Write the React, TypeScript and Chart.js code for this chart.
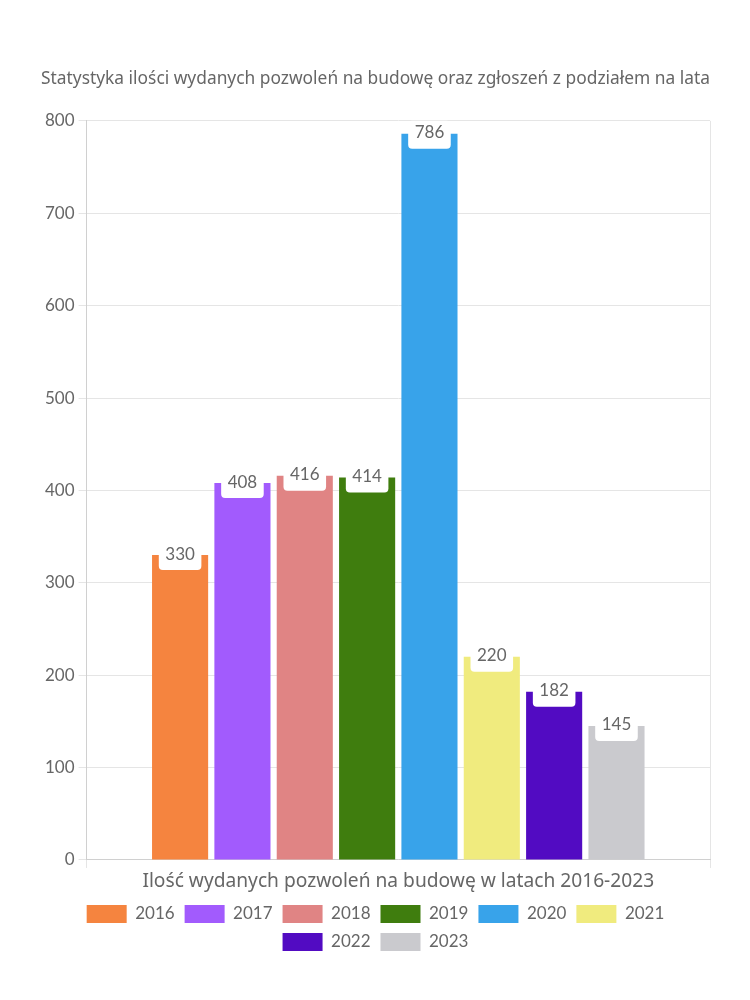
import React, { useEffect, useRef } from "react";
import { Chart, registerables } from "chart.js";

Chart.register(...registerables);

const categories = ["Ilość wydanych pozwoleń na budowę w latach 2016-2023"];
const years = ["2016", "2017", "2018", "2019", "2020", "2021", "2022", "2023"];
const values = [330, 408, 416, 414, 786, 220, 182, 145];
const colors = ["#F5843F", "#A25BFD", "#E08484", "#3F7D0E", "#38A3EA", "#F0EB7E", "#520BC2", "#CACACE"];
const yTicks = [0, 100, 200, 300, 400, 500, 600, 700, 800];
const titleText = "Statystyka ilości wydanych pozwoleń na budowę oraz zgłoszeń z podziałem na lata";

const FONT = "Lato, 'Open Sans', sans-serif";
const WIDE = "'Noto Sans', 'Open Sans', sans-serif";

const labelPlugin = {
  id: "boxLabels",
  afterDatasetsDraw(chart: any) {
    const ctx = chart.ctx;
    ctx.save();
    ctx.font = `17px ${FONT}`;
    ctx.textAlign = "center";
    ctx.textBaseline = "middle";
    chart.data.datasets.forEach((ds: any, i: number) => {
      const meta = chart.getDatasetMeta(i);
      meta.data.forEach((bar: any, j: number) => {
        const txt = String(ds.data[j]);
        const w = ctx.measureText(txt).width + 13;
        const h = 28;
        const x = bar.x - w / 2;
        const y = bar.y - 13;
        ctx.fillStyle = "#ffffff";
        ctx.beginPath();
        (ctx as any).roundRect(x, y, w, h, 4);
        ctx.fill();
        ctx.fillStyle = "#666666";
        ctx.fillText(txt, bar.x, bar.y - 1);
      });
    });
    ctx.restore();
  },
};

export default function App() {
  const ref = useRef<HTMLCanvasElement | null>(null);
  useEffect(() => {
    document.body.style.margin = "0";
    const chart = new Chart(ref.current!, {
      type: "bar",
      data: {
        labels: categories,
        datasets: years.map((y, i) => ({
          label: y,
          data: [values[i]],
          backgroundColor: colors[i],
        })),
      },
      options: {
        animation: false,
        responsive: true,
        maintainAspectRatio: false,
        layout: { padding: { top: 69, left: 41, right: 40, bottom: 39 } },
        plugins: {
          title: {
            display: true,
            text: titleText,
            color: "#666",
            font: { family: WIDE, size: 17.4, weight: "normal" },
            padding: { top: 0, bottom: 31 },
          },
          legend: {
            position: "bottom",
            labels: {
              color: "#666",
              font: { family: FONT, size: 17 },
              boxWidth: 40,
              boxHeight: 18,
              padding: 10,
            },
          },
          tooltip: { enabled: false },
        },
        scales: {
          x: {
            grid: { color: "#e5e5e5", offset: true, tickLength: 8 },
            border: { color: "#d0d0d0" },
            ticks: { color: "#666", font: { family: WIDE, size: 19.2 }, padding: 2 },
          },
          y: {
            min: 0,
            max: 800,
            afterBuildTicks: (axis: any) => {
              axis.ticks = yTicks.map((v) => ({ value: v }));
            },
            grid: { color: "#e5e5e5", tickLength: 8 },
            border: { color: "#d0d0d0" },
            ticks: { color: "#666", font: { family: FONT, size: 17 }, padding: 4 },
          },
        },
      },
      plugins: [labelPlugin],
    });
    return () => chart.destroy();
  }, []);
  return (
    <div style={{ width: 750, height: 1000, position: "relative" }}>
      <canvas ref={ref} />
    </div>
  );
}
